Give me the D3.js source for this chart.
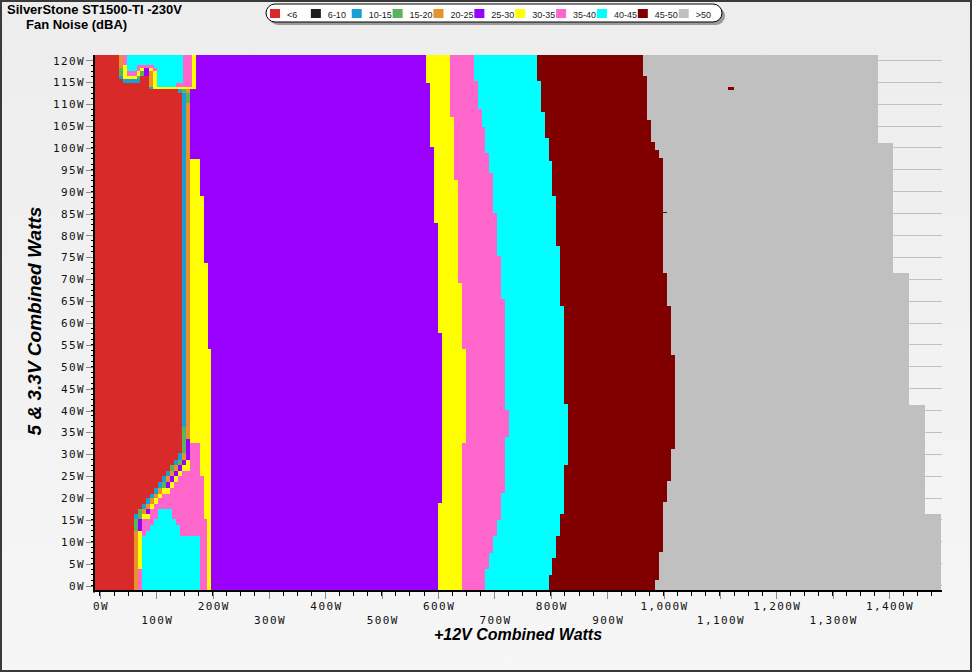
<!DOCTYPE html>
<html><head><meta charset="utf-8">
<script src="https://cdn.jsdelivr.net/npm/d3@7"></script>
<style>body{margin:0;background:#fff}svg{display:block}</style>
</head><body>
<svg id="chart" width="972" height="672"></svg>
<script>
// ---------------- DATA (watts) ----------------
const levels = ["<6","6-10","10-15","15-20","20-25","25-30","30-35","35-40","40-45","45-50",">50"];
const levelColors = ["#d92a2a","#1e1e1e","#1a9fd5","#5ab45a","#e8922a","#9900ff","#ffff00","#ff66cc","#00ffff","#800000","#c0c0c0"];
const xTicks = d3.range(0, 1401, 100);
const yTicks = d3.range(0, 121, 5);
const xDomain = [-10.6, 1494];
const yDomain = [-1.25, 121.25];

// staircase right edges of the main bands: [y from, y to, x edge]
const grayEdge = [[101.1,121.25,1380.6],[71.4,101.1,1407.3],[41.3,71.4,1435.7],[16.3,41.3,1464.0],[-1.25,16.3,1492.4]];
const darkRedEdge = [[116.5,121.25,963.6],[106.5,116.5,970.7],[101.3,106.5,977.8],[99.6,101.3,984.9],[97.6,99.6,992.0],[71.4,97.6,999.1],[63.8,71.4,1006.2],[52.7,63.8,1013.3],[31.3,52.7,1020.4],[23.8,31.3,1013.3],[19.0,23.8,1006.2],[7.7,19.0,999.1],[1.3,7.7,992.0],[-1.25,1.3,984.9]];
const cyanEdge = [[115.3,121.25,775.5],[108.2,115.3,782.6],[102.3,108.2,789.7],[97.0,102.3,796.8],[89.0,97.0,802.1],[77.6,89.0,809.2],[63.9,77.6,816.3],[41.5,63.9,823.4],[27.5,41.5,830.5],[16.3,27.5,823.4],[11.3,16.3,816.3],[6.2,11.3,809.2],[2.4,6.2,802.1],[-1.25,2.4,796.8]];
const pinkEdge = [[115.3,121.25,663.7],[108.9,115.3,670.8],[104.8,108.9,677.9],[98.9,104.8,683.2],[94.3,98.9,690.3],[85.1,94.3,697.4],[75.3,85.1,704.5],[65.5,75.3,711.6],[40.1,65.5,718.7],[33.9,40.1,725.8],[21.1,33.9,718.7],[14.9,21.1,711.6],[11.3,14.9,704.5],[7.4,11.3,697.4],[3.7,7.4,690.3],[-1.25,3.7,683.2]];
const yellowEdge = [[107.1,121.25,621.1],[92.7,107.1,628.2],[69.1,92.7,635.3],[54.0,69.1,642.4],[32.5,54.0,649.5],[-1.25,32.5,642.4]];
const purpleEdge = [[114.9,121.25,578.5],[100.2,114.9,585.6],[82.8,100.2,592.7],[57.7,82.8,599.8],[18.8,57.7,606.9],[-1.25,18.8,599.8]];

// low-load region: [y from, y to, [[level, x end], ...]]
const leftRows = [
 [119.0,121.25,[[0,33.7],[4,40.8],[7,47.9],[8,147.3],[7,163.3],[6,170.4]]],
 [118.3,119.0,[[0,33.7],[4,40.8],[6,47.9],[8,65.7],[7,95.8],[8,147.3],[7,163.3],[6,170.4]]],
 [117.6,118.3,[[0,33.7],[3,40.8],[6,47.9],[8,65.7],[7,71.0],[6,78.1],[5,87.0],[6,94.1],[7,101.2],[8,147.3],[7,163.3],[6,170.4]]],
 [116.5,117.6,[[0,33.7],[3,40.8],[6,47.9],[7,65.7],[6,71.0],[3,78.1],[5,87.0],[4,94.1],[6,101.2],[8,147.3],[7,163.3],[6,170.4]]],
 [115.8,116.5,[[0,33.7],[2,40.8],[6,65.7],[3,71.0],[0,87.0],[4,94.1],[6,101.2],[8,147.3],[7,163.3],[6,170.4]]],
 [114.9,115.8,[[0,40.8],[2,71.0],[0,87.0],[4,94.1],[6,101.2],[8,147.3],[7,163.3],[6,170.4]]],
 [114.0,114.9,[[0,87.0],[4,94.1],[6,101.2],[8,134.9],[7,163.3],[6,170.4]]],
 [113.4,114.0,[[0,87.0],[2,94.1],[6,170.4]]],
 [112.6,113.4,[[0,138.4],[2,145.5],[3,152.6],[4,159.7]]],
 [110.3,112.6,[[0,145.5],[2,152.6],[3,159.7]]],
 [97.4,110.3,[[0,145.5],[2,152.6],[4,159.7]]],
 [89.1,97.4,[[0,145.5],[2,152.6],[4,159.7],[6,177.5]]],
 [73.8,89.1,[[0,145.5],[2,152.6],[4,159.7],[6,184.6]]],
 [54.0,73.8,[[0,145.5],[2,152.6],[4,159.7],[6,191.7]]],
 [36.3,54.0,[[0,145.5],[2,152.6],[4,159.7],[6,196.4]]],
 [33.6,36.3,[[0,145.5],[3,152.6],[4,159.7],[6,196.4]]],
 [32.6,33.6,[[0,145.5],[3,152.6],[5,159.7],[6,196.4]]],
 [30.2,32.6,[[0,145.5],[3,152.6],[5,159.7],[7,177.5],[6,196.4]]],
 [28.8,30.2,[[0,138.4],[2,145.5],[4,152.6],[5,159.7],[7,177.5],[6,196.4]]],
 [27.5,28.8,[[0,131.3],[2,138.4],[3,145.5],[5,152.6],[6,159.7],[7,177.5],[6,196.4]]],
 [26.2,27.5,[[0,124.2],[3,131.3],[4,138.4],[5,145.5],[6,159.7],[7,177.5],[6,196.4]]],
 [25.0,26.2,[[0,117.1],[2,124.2],[4,131.3],[5,138.4],[6,145.5],[7,177.5],[6,196.4]]],
 [23.7,25.0,[[0,110.0],[2,117.1],[4,124.2],[5,131.3],[6,138.4],[7,184.6],[6,196.4]]],
 [22.4,23.7,[[0,102.9],[2,110.0],[3,117.1],[5,124.2],[6,131.3],[7,184.6],[6,196.4]]],
 [21.0,22.4,[[0,95.8],[2,102.9],[4,110.0],[6,124.2],[7,184.6],[6,196.4]]],
 [19.9,21.0,[[0,88.7],[2,95.8],[4,102.9],[6,110.0],[7,184.6],[6,196.4]]],
 [18.6,19.9,[[0,81.6],[2,88.7],[4,95.8],[6,102.9],[7,184.6],[6,196.4]]],
 [17.4,18.6,[[0,74.5],[2,81.6],[4,88.7],[6,95.8],[7,184.6],[6,196.4]]],
 [16.3,17.4,[[0,67.4],[3,74.5],[4,81.6],[5,88.7],[7,102.9],[8,127.8],[7,184.6],[6,196.4]]],
 [15.1,16.3,[[0,60.3],[2,67.4],[3,74.5],[6,88.7],[7,102.9],[8,127.8],[7,184.6],[6,196.4]]],
 [13.8,15.1,[[0,60.3],[3,67.4],[5,74.5],[7,95.8],[8,134.9],[7,190.4],[6,196.4]]],
 [12.5,13.8,[[0,60.3],[3,67.4],[5,74.5],[7,88.7],[8,142.0],[7,190.4],[6,196.4]]],
 [11.3,12.5,[[0,60.3],[4,67.4],[6,74.5],[7,81.6],[8,142.0],[7,190.4],[6,196.4]]],
 [3.7,11.3,[[0,60.3],[4,67.4],[6,74.5],[8,177.5],[7,190.4],[6,196.4]]],
 [-1.25,3.7,[[0,60.3],[4,67.4],[7,74.5],[8,177.5],[7,190.4],[6,196.4]]]
];
// isolated cells: [y from, y to, x from, x to, level]
const strayCells = [[85.1,85.4,999.1,1006.2,9],[113.2,113.9,1114,1125,9]];

// ---------------- DRAWING ----------------
const W = 972, H = 672;
const svg = d3.select("#chart");
const defs = svg.append("defs");
const grad = defs.append("linearGradient").attr("id","bg").attr("x1",0).attr("y1",0).attr("x2",0).attr("y2",1);
grad.append("stop").attr("offset","0%").attr("stop-color","#ededed");
grad.append("stop").attr("offset","100%").attr("stop-color","#f6f6f6");
svg.append("rect").attr("x",0).attr("y",0).attr("width",W).attr("height",H).attr("fill","url(#bg)");
svg.append("rect").attr("x",1).attr("y",1).attr("width",W-2).attr("height",H-2)
  .attr("fill","none").attr("stroke","#3a3a3a").attr("stroke-width",2);

const plot = {left:94, right:942, top:55, bottom:591};
const x = d3.scaleLinear().domain(xDomain).range([plot.left, plot.right]);
const y = d3.scaleLinear().domain(yDomain).range([plot.bottom, plot.top]);
const color = d3.scaleOrdinal().domain(d3.range(levels.length)).range(levelColors);

// grid lines
svg.append("g").selectAll("line").data(yTicks).join("line")
  .attr("x1",plot.left).attr("x2",plot.right)
  .attr("y1",d=>y(d)).attr("y2",d=>y(d))
  .attr("stroke","#c0c0c0").attr("stroke-width",1).attr("shape-rendering","crispEdges");

// main bands, painted widest first
function stairPath(edge){
  const steps = edge.slice().sort((a,b)=>b[1]-a[1]);
  const p = d3.path();
  p.moveTo(x(xDomain[0]), y(steps[0][1]));
  steps.forEach(s=>{ p.lineTo(x(s[2]), y(s[1])); p.lineTo(x(s[2]), y(s[0])); });
  p.lineTo(x(xDomain[0]), y(steps[steps.length-1][0]));
  p.closePath();
  return p.toString();
}
const bands = [[grayEdge,10],[darkRedEdge,9],[cyanEdge,8],[pinkEdge,7],[yellowEdge,6],[purpleEdge,5]];
svg.append("g").selectAll("path").data(bands).join("path")
  .attr("d",d=>stairPath(d[0])).attr("fill",d=>color(d[1]))
  .attr("shape-rendering","crispEdges");

// low-load region
const cells = [];
leftRows.forEach(r=>{
  let x0 = xDomain[0];
  r[2].forEach(s=>{ cells.push({y0:r[0], y1:r[1], x0:x0, x1:s[1], lv:s[0]}); x0 = s[1]; });
});
strayCells.forEach(c=>cells.push({y0:c[0],y1:c[1],x0:c[2],x1:c[3],lv:c[4]}));
svg.append("g").selectAll("rect").data(cells).join("rect")
  .attr("x",d=>x(d.x0)).attr("width",d=>x(d.x1)-x(d.x0))
  .attr("y",d=>y(d.y1)).attr("height",d=>y(d.y0)-y(d.y1))
  .attr("fill",d=>color(d.lv)).attr("shape-rendering","crispEdges");

// axes
const monoFont = "'DejaVu Sans Mono', 'Liberation Mono', monospace";
const yMinor = d3.range(0, 121.25, 1.25);
const gy = svg.append("g");
gy.selectAll("line.minor").data(yMinor).join("line").attr("class","minor")
  .attr("x1",plot.left-3).attr("x2",plot.left).attr("y1",d=>y(d)).attr("y2",d=>y(d))
  .attr("stroke","#000").attr("shape-rendering","crispEdges");
const yAxis = d3.axisLeft(y).tickValues(yTicks).tickSize(7).tickPadding(1).tickFormat(d=>d+"W");
const yg = svg.append("g").attr("transform",`translate(${plot.left-1},0)`).call(yAxis);
yg.select(".domain").remove();
yg.selectAll(".tick line").attr("stroke","#8a8a8a").attr("shape-rendering","crispEdges");
yg.selectAll(".tick text").attr("font-family",monoFont).attr("font-size",11)
  .attr("letter-spacing","1.4px").attr("fill","#111");

const xMinor = d3.range(0, 1476, 25);
svg.append("g").selectAll("line").data(xMinor).join("line")
  .attr("x1",d=>x(d)).attr("x2",d=>x(d)).attr("y1",plot.bottom+1).attr("y2",plot.bottom+5)
  .attr("stroke","#000").attr("shape-rendering","crispEdges");
const xAxis = d3.axisBottom(x).tickValues(xTicks).tickSize(8).tickFormat("");
const xg = svg.append("g").attr("transform",`translate(0,${plot.bottom})`).call(xAxis);
xg.select(".domain").remove();
xg.selectAll(".tick line").attr("stroke","#8a8a8a").attr("shape-rendering","crispEdges");
svg.append("g").selectAll("text").data(xTicks).join("text")
  .attr("x",d=>x(d)+1).attr("y",(d,i)=> i%2===0 ? 610 : 623.5)
  .attr("text-anchor","middle").attr("font-family",monoFont).attr("font-size",11)
  .attr("letter-spacing","1.4px").attr("fill","#111")
  .text(d=>d3.format(",")(d)+"W");

// axis lines
svg.append("line").attr("x1",plot.left).attr("x2",plot.left).attr("y1",plot.top).attr("y2",plot.bottom+1.5)
  .attr("stroke","#000").attr("stroke-width",2);
svg.append("line").attr("x1",plot.left-1).attr("x2",plot.right).attr("y1",plot.bottom).attr("y2",plot.bottom)
  .attr("stroke","#000").attr("stroke-width",2);

// titles
const sans = "'Liberation Sans', Arial, sans-serif";
svg.append("text").attr("x",7).attr("y",14).attr("font-family",sans).attr("font-weight","bold")
  .attr("font-size",13).attr("fill","#000").text("SilverStone ST1500-TI -230V");
svg.append("text").attr("x",26).attr("y",29).attr("font-family",sans).attr("font-weight","bold")
  .attr("font-size",13).attr("fill","#000").text("Fan Noise (dBA)");
svg.append("text").attr("x",518).attr("y",640).attr("text-anchor","middle").attr("font-family",sans)
  .attr("font-weight","bold").attr("font-style","italic").attr("font-size",16).attr("fill","#000")
  .text("+12V Combined Watts");
svg.append("text").attr("transform","translate(41,321) rotate(-90)").attr("text-anchor","middle")
  .attr("font-family",sans).attr("font-weight","bold").attr("font-style","italic").attr("font-size",19)
  .attr("fill","#000").text("5 & 3.3V Combined Watts");

// legend
const lg = svg.append("g").attr("transform","translate(266,4)");
lg.append("rect").attr("x",3).attr("y",3).attr("width",456).attr("height",18).attr("rx",9)
  .attr("fill","#9a9a9a");
lg.append("rect").attr("x",0).attr("y",0).attr("width",456).attr("height",18).attr("rx",9)
  .attr("fill","#fff").attr("stroke","#000").attr("stroke-width",1);
const items = lg.selectAll("g.item").data(levels).join("g").attr("class","item")
  .attr("transform",(d,i)=>`translate(${4 + i*40.87},0)`);
items.append("rect").attr("x",0).attr("y",5).attr("width",10).attr("height",9)
  .attr("fill",(d,i)=>color(i));
items.append("text").attr("x",17).attr("y",13.5).attr("font-family",sans).attr("font-size",9)
  .attr("fill","#222").text(d=>d);
</script>
</body></html>
